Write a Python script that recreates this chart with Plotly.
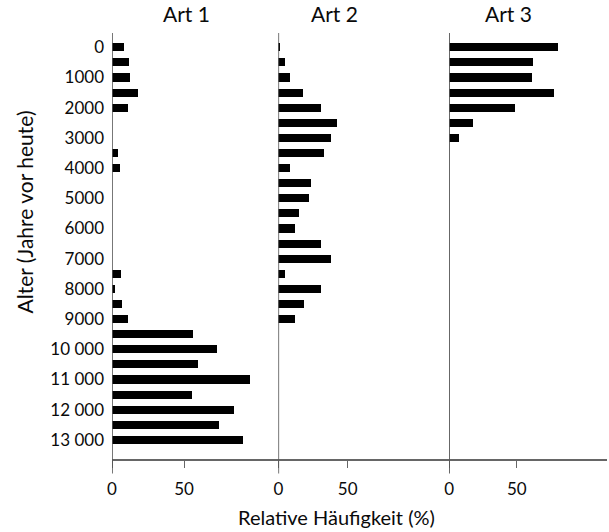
import plotly.graph_objects as go

# Pollen-style diagram: relative frequency of three species over time
ages = list(range(0, 13001, 500))  # years before present

art1 = [8, 11.5, 12.5, 18, 11, 0, 0, 4.5, 5.5, 0, 0, 0, 0, 0, 0,
        6, 2, 7, 11, 56, 73, 59.5, 96, 55.5, 85, 74, 91]
art2 = [1.7, 5, 8.5, 18, 31, 42.5, 38, 33, 8.5, 23.5, 22, 15, 12, 31, 38,
        5, 31, 18.5, 12.5, 0, 0, 0, 0, 0, 0, 0, 0]
art3 = [80.5, 62, 61, 77.5, 48.5, 18, 7.5, 0, 0, 0, 0, 0, 0, 0, 0,
        0, 0, 0, 0, 0, 0, 0, 0, 0, 0, 0, 0]

panel_titles = ["Art 1", "Art 2", "Art 3"]
y_tickvals = list(range(0, 13001, 1000))
y_ticktext = ["0", "1000", "2000", "3000", "4000", "5000", "6000", "7000",
              "8000", "9000", "10 000", "11 000", "12 000", "13 000"]
x_tickvals = [0, 50]
x_title = "Relative Häufigkeit (%)"
y_title = "Alter (Jahre vor heute)"

FONT = "Lato, 'Open Sans', sans-serif"
TXT = "#0a0a0a"
AXC = "#666666"

domains = [[0.0, 0.336], [0.336, 0.681], [0.681, 1.0]]
xranges = [[0, 115.5], [0, 123.2], [0, 116.7]]
yrange = [13632, -474]

fig = go.Figure()
series = [art1, art2, art3]
for i, vals in enumerate(series):
    sfx = "" if i == 0 else str(i + 1)
    fig.add_trace(go.Bar(
        x=vals, y=ages, orientation="h", width=270,
        marker=dict(color="#000000", line=dict(width=0)),
        xaxis="x" + sfx, yaxis="y" + sfx, showlegend=False,
    ))

layout = dict(
    width=609, height=532,
    margin=dict(l=112, r=2, t=33, b=73),
    paper_bgcolor="white", plot_bgcolor="white",
    font=dict(family=FONT, color=TXT),
    bargap=0,
)

for i in range(3):
    sfx = "" if i == 0 else str(i + 1)
    layout["xaxis" + sfx] = dict(
        domain=domains[i], range=xranges[i], anchor="y" + sfx,
        tickvals=x_tickvals, ticktext=["0", "50"],
        ticks="outside", ticklen=7, tickwidth=1.3, tickcolor=AXC,
        showline=True, linecolor=AXC, linewidth=1.5,
        showgrid=False, zeroline=False, fixedrange=True,
        tickfont=dict(size=17, color=TXT, family=FONT),
        ticklabelstandoff=7,
    )
    ydict = dict(
        domain=[0, 1], range=yrange, anchor="x" + sfx,
        showgrid=False, zeroline=False, showline=False, ticks="",
        fixedrange=True,
    )
    if i == 0:
        ydict.update(tickvals=y_tickvals, ticktext=y_ticktext,
                     tickfont=dict(size=17, color=TXT, family=FONT),
                     ticklabelstandoff=7)
    else:
        ydict.update(matches="y", showticklabels=False)
    layout["yaxis" + sfx] = ydict

# vertical baseline of each panel, running slightly below the bottom axis
shapes = []
for i in range(3):
    sfx = "" if i == 0 else str(i + 1)
    shapes.append(dict(
        type="line", xref="x" + sfx, yref="paper",
        x0=0, x1=0, y0=-0.034, y1=1.0,
        line=dict(color="#555555", width=1.6), layer="above",
    ))
layout["shapes"] = shapes

annotations = []
title_x = [0.1515, 0.4485, 0.80]
for t, xp in zip(panel_titles, title_x):
    annotations.append(dict(
        text=t, xref="paper", yref="paper", x=xp, y=1.046,
        xanchor="center", yanchor="middle", showarrow=False,
        font=dict(size=21, color=TXT, family=FONT),
    ))
annotations.append(dict(
    text=x_title, xref="paper", yref="paper", x=0.454, y=-0.135,
    xanchor="center", yanchor="middle", showarrow=False,
    font=dict(size=20, color=TXT, family=FONT),
))
annotations.append(dict(
    text=y_title, xref="paper", yref="paper", x=-0.1768, y=0.58,
    xanchor="center", yanchor="middle", showarrow=False, textangle=-90,
    font=dict(size=21, color=TXT, family=FONT),
))
layout["annotations"] = annotations

fig.update_layout(layout)
fig.write_html("out.html")
